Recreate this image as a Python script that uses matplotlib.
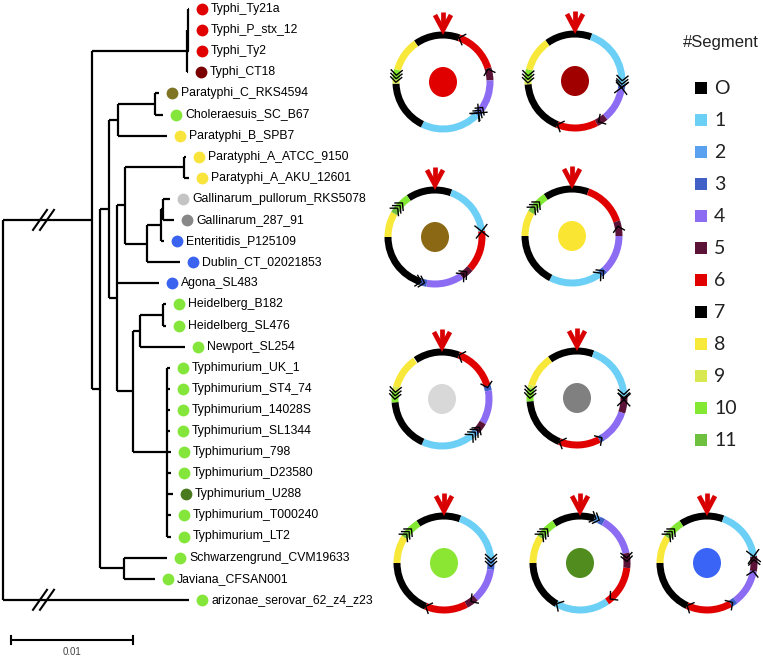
import numpy as np
import matplotlib
matplotlib.use("Agg")
import matplotlib.pyplot as plt
from matplotlib.patches import Wedge, Ellipse, Rectangle

# ---------------- tree data ----------------
leaf_names = ["Typhi_Ty21a", "Typhi_P_stx_12", "Typhi_Ty2", "Typhi_CT18",
              "Paratyphi_C_RKS4594", "Choleraesuis_SC_B67", "Paratyphi_B_SPB7",
              "Paratyphi_A_ATCC_9150", "Paratyphi_A_AKU_12601",
              "Gallinarum_pullorum_RKS5078", "Gallinarum_287_91", "Enteritidis_P125109",
              "Dublin_CT_02021853", "Agona_SL483", "Heidelberg_B182", "Heidelberg_SL476",
              "Newport_SL254", "Typhimurium_UK_1", "Typhimurium_ST4_74", "Typhimurium_14028S",
              "Typhimurium_SL1344", "Typhimurium_798", "Typhimurium_D23580", "Typhimurium_U288",
              "Typhimurium_T000240", "Typhimurium_LT2", "Schwarzengrund_CVM19633",
              "Javiana_CFSAN001", "arizonae_serovar_62_z4_z23"]
leaf_colors = ["#e00000", "#e00000", "#e00000", "#7a0000",
               "#7f7424", "#84e63a", "#f8e43a", "#f8e43a", "#f8e43a",
               "#c4c4c4", "#888888", "#3a64f0", "#3a64f0", "#3a64f0",
               "#84e63a", "#84e63a", "#84e63a", "#84e63a", "#84e63a", "#84e63a",
               "#84e63a", "#84e63a", "#84e63a", "#4a7a1e", "#84e63a", "#84e63a",
               "#84e63a", "#84e63a", "#84e63a"]
# root-to-tip distances
leaf_depth = [0.01525, 0.01525, 0.01525, 0.01516,
              0.01279, 0.01311, 0.01344, 0.01500, 0.01525,
              0.01369, 0.01402, 0.01320, 0.01451, 0.01279,
              0.01336, 0.01336, 0.01492,
              0.01369, 0.01369, 0.01369, 0.01369, 0.01377, 0.01377, 0.01393, 0.01377, 0.01377,
              0.01344, 0.01246, 0.01525]
# internal nodes: root-to-node distance, children
clades = {
    "typhi_core": (0.01516, ["Typhi_Ty21a", "Typhi_P_stx_12", "Typhi_Ty2"]),
    "typhi": (0.01508, ["typhi_core", "Typhi_CT18"]),
    "para_c": (0.01246, ["Paratyphi_C_RKS4594", "Choleraesuis_SC_B67"]),
    "para_b": (0.00943, ["para_c", "Paratyphi_B_SPB7"]),
    "para_a": (0.01484, ["Paratyphi_A_ATCC_9150", "Paratyphi_A_AKU_12601"]),
    "gall": (0.01311, ["Gallinarum_pullorum_RKS5078", "Gallinarum_287_91"]),
    "gall_ent": (0.01295, ["gall", "Enteritidis_P125109"]),
    "dublin": (0.01180, ["gall_ent", "Dublin_CT_02021853"]),
    "clade_c": (0.01000, ["para_a", "dublin"]),
    "heid": (0.01311, ["Heidelberg_B182", "Heidelberg_SL476"]),
    "newport": (0.01123, ["heid", "Newport_SL254"]),
    "typhim": (0.01344, ["Typhimurium_UK_1", "Typhimurium_ST4_74", "Typhimurium_14028S",
                         "Typhimurium_SL1344", "Typhimurium_798", "Typhimurium_D23580",
                         "Typhimurium_U288", "Typhimurium_T000240", "Typhimurium_LT2"]),
    "ht": (0.01066, ["newport", "typhim"]),
    "mid": (0.00934, ["clade_c", "Agona_SL483", "ht"]),
    "upper": (0.00869, ["para_b", "mid"]),
    "sj": (0.00992, ["Schwarzengrund_CVM19633", "Javiana_CFSAN001"]),
    "lower": (0.00795, ["upper", "sj"]),
    "ingroup": (0.00730, ["typhi", "lower"]),
    "root": (0.0, ["ingroup", "arizonae_serovar_62_z4_z23"]),
}
scale_len = 0.01

# ---------------- genome ring data ----------------
seg_colors = ["#000000", "#6ccff6", "#5aa2f0", "#4060c8", "#8c6cf2", "#5a1236",
              "#e00000", "#000000", "#f8e83a", "#d8e850", "#82e832", "#70c040"]
seg_labels = ["O", "1", "2", "3", "4", "5", "6", "7", "8", "9", "10", "11"]

ring_fill = ["#e00000", "#a00000", "#8b6914", "#fae632", "#d8d8d8",
             "#808080", "#8ae632", "#508c1e", "#3a64f5"]
# (segment, start angle, end angle), degrees clockwise from top
ring_segments = [
    [(0, -35, 20), (6, 20, 73), (5, 73, 88), (4, 88, 127), (3, 127, 131), (2, 131, 135),
     (1, 135, 206), (7, 206, 268), (9, 268, 273), (10, 273, 285), (8, 285, 325)],
    [(0, -36, 20), (1, 20, 95), (3, 95, 100), (4, 100, 140), (5, 140, 153), (6, 153, 202),
     (7, 202, 266), (9, 266, 271), (10, 271, 284), (8, 284, 324)],
    [(0, -34, 20), (1, 20, 83), (6, 83, 132), (5, 132, 146), (4, 146, 190), (3, 190, 198),
     (7, 198, 270), (8, 270, 300), (11, 300, 308), (10, 308, 326)],
    [(0, -34, 20), (6, 20, 72), (5, 72, 90), (4, 90, 136), (3, 136, 143), (1, 143, 207),
     (7, 207, 270), (8, 270, 300), (11, 300, 308), (10, 308, 326)],
    [(0, -34, 21), (6, 21, 74), (3, 74, 80), (4, 80, 120), (5, 120, 133), (2, 133, 138),
     (1, 138, 204), (7, 204, 266), (10, 266, 280), (9, 280, 285), (8, 285, 325)],
    [(0, -35, 20), (1, 20, 88), (5, 88, 108), (4, 108, 147), (3, 147, 152), (6, 152, 202),
     (7, 202, 266), (10, 266, 282), (9, 282, 286), (8, 286, 325)],
    [(0, -33, 20), (1, 20, 84), (2, 84, 92), (3, 92, 98), (4, 98, 138), (5, 138, 152),
     (6, 152, 203), (7, 203, 270), (8, 270, 303), (11, 303, 310), (10, 310, 327)],
    [(0, -33, 18), (2, 18, 24), (3, 24, 30), (4, 30, 78), (5, 78, 96), (6, 96, 145),
     (1, 145, 210), (7, 210, 270), (8, 270, 303), (11, 303, 310), (10, 310, 327)],
    [(0, -33, 20), (1, 20, 82), (5, 82, 100), (4, 100, 143), (3, 143, 150), (6, 150, 205),
     (7, 205, 270), (8, 270, 303), (11, 303, 310), (10, 310, 327)],
]
# orientation marks: (angle, count, direction +1 cw / -1 ccw, 0 = cross)
ring_marks = [
    [(20, 1, -1), (74, 1, -1), (127, 3, -1), (131, 1, 0), (274, 3, -1)],
    [(94, 3, 1), (98, 1, 0), (150, 1, 1), (202, 1, 1), (272, 3, -1)],
    [(83, 1, 0), (140, 2, -1), (195, 2, -1), (312, 3, 1)],
    [(78, 1, -1), (140, 2, -1), (312, 3, 1)],
    [(21, 1, -1), (76, 1, 1), (127, 1, -1), (135, 3, -1), (274, 3, -1)],
    [(88, 2, 1), (92, 1, 0), (148, 1, -1), (202, 1, 1), (274, 3, -1)],
    [(90, 3, 1), (145, 1, 1), (203, 1, 1), (312, 3, 1)],
    [(22, 2, 1), (86, 2, 1), (140, 1, 1), (210, 1, 1), (312, 3, 1)],
    [(82, 1, 0), (86, 1, -1), (100, 1, -1), (147, 1, -1), (205, 1, 1), (312, 3, 1)],
]

# ---------------- figure ----------------
fig = plt.figure(figsize=(7.63, 6.59), dpi=100)
ax = fig.add_axes([0, 0, 1, 1])
ax.set_xlim(0, 763)
ax.set_ylim(659, 0)
ax.axis("off")

X0, PX = 3, 12200       # px of root, px per unit of distance
Y0, DY = 9, 21.1

depth = dict(zip(leaf_names, leaf_depth))
for k, (d, ch) in clades.items():
    depth[k] = d
ypos = {n: Y0 + i * DY for i, n in enumerate(leaf_names)}


def get_y(n):
    if n not in ypos:
        ys = [get_y(c) for c in clades[n][1]]
        ypos[n] = (min(ys) + max(ys)) / 2
    return ypos[n]


def xp(n):
    return X0 + depth[n] * PX


lw_tree = 1.6
for k, (d, ch) in clades.items():
    get_y(k)
    ys = [get_y(c) for c in ch]
    ax.plot([xp(k), xp(k)], [min(ys), max(ys)], color="black", lw=lw_tree,
            solid_capstyle="butt")
    for c in ch:
        ax.plot([xp(k), xp(c)], [get_y(c), get_y(c)], color="black", lw=lw_tree,
                solid_capstyle="butt")

# branch breaks on the root branches
for c in clades["root"][1]:
    yb = get_y(c)
    for xb in (40, 47):
        ax.plot([xb - 7, xb + 7], [yb + 10, yb - 10], color="black", lw=1.5)

for n, col in zip(leaf_names, leaf_colors):
    xd = xp(n) + 13
    ax.plot(xd, get_y(n), "o", ms=8.5, color=col, mec="none")
    ax.text(xd + 9, get_y(n), n, fontsize=8.8, family="Liberation Sans",
            va="center", ha="left", color="black")

# scale bar
sx0, sy = 11, 640
ax.plot([sx0, sx0 + scale_len * PX], [sy, sy], color="black", lw=1.5)
for xx in (sx0, sx0 + scale_len * PX):
    ax.plot([xx, xx], [sy - 4, sy + 4], color="black", lw=1.5)
ax.text(sx0 + scale_len * PX / 2, sy + 12, "0.01", fontsize=7, ha="center",
        va="center", color="#444444", family="Liberation Sans")

# ---------------- rings ----------------
centers = [(443, 82), (575, 81), (435, 237), (572, 236), (442, 399),
           (577, 398), (444, 563), (580, 563), (707, 563)]
R, W = 47, 7


def chevrons(cx, cy, ang, n, direction):
    a = np.radians(ang)
    nrm = np.array([np.sin(a), -np.cos(a)])
    tan = np.array([np.cos(a), np.sin(a)])
    base = np.array([cx, cy]) + R * nrm
    if direction == 0:
        for s in (1, -1):
            p1 = base + 6 * (tan * s + nrm)
            p2 = base - 6 * (tan * s + nrm)
            ax.plot([p1[0], p2[0]], [p1[1], p2[1]], color="black", lw=1.0)
        return
    t = tan * direction
    for k in range(n):
        tip = base + t * ((k - (n - 1) / 2) * 3.5)
        a1 = tip - t * 5 + nrm * 5.5
        a2 = tip - t * 5 - nrm * 5.5
        ax.plot([a1[0], tip[0], a2[0]], [a1[1], tip[1], a2[1]], color="black", lw=1.0)


for (cx, cy), fill, segs, marks in zip(centers, ring_fill, ring_segments, ring_marks):
    for s, a1, a2 in segs:
        ax.add_patch(Wedge((cx, cy), R + W / 2, a1 - 90, a2 - 90, width=W,
                           color=seg_colors[s], lw=0))
    ax.add_patch(Ellipse((cx, cy), 28, 30, color=fill, lw=0))
    for ang, n, dr in marks:
        chevrons(cx, cy, ang, n, dr)
    # origin arrow
    ax.plot([cx, cx], [cy - 70, cy - 53], color="#d80000", lw=3.4, solid_capstyle="butt")
    ax.plot([cx - 8, cx, cx + 8], [cy - 67, cy - 52, cy - 67], color="#d80000", lw=3.4,
            solid_joinstyle="miter", solid_capstyle="butt")

# ---------------- legend ----------------
ax.text(683, 43, "#Segment", fontsize=12, family=["Liberation Sans Narrow", "Liberation Sans"],
        va="center", ha="left", color="#222222")
for i, (col, lab) in enumerate(zip(seg_colors, seg_labels)):
    yy = 88 + 32 * i
    ax.add_patch(Rectangle((695, yy - 6), 12, 12, color=col, lw=0))
    ax.text(714, yy, lab, fontsize=14, family="Lato", va="center", ha="left",
            color="#222222")

fig.savefig("out.png", dpi=100)
